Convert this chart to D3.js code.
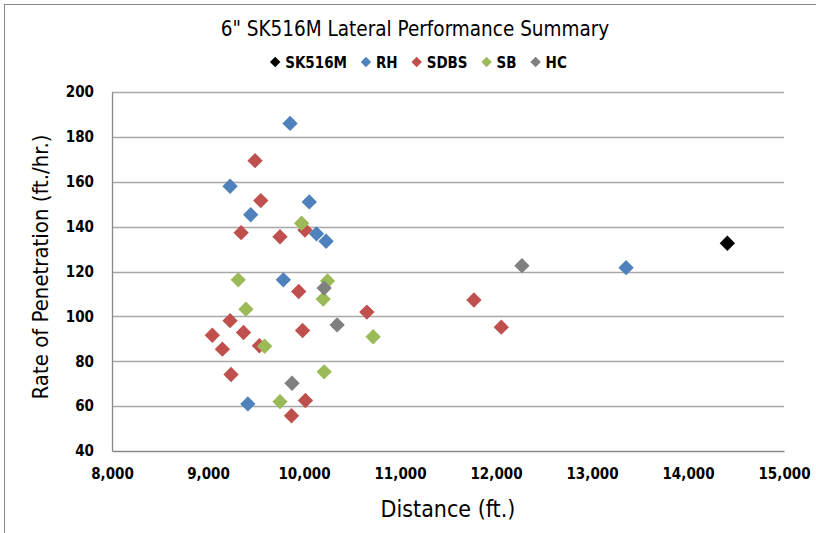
<!DOCTYPE html>
<html>
<head>
<meta charset="utf-8">
<script src="https://cdn.jsdelivr.net/npm/d3@7"></script>
<style>
body { margin: 0; background: #fff; }
text { font-family: "Liberation Sans Narrow", "DejaVu Sans Condensed", "Open Sans", sans-serif; }
</style>
</head>
<body>
<div id="chart"></div>
<script>
// series data: [distance (ft.), ROP (ft./hr.)]
var seriesNames = ["SK516M", "RH", "SDBS", "SB", "HC"];
var seriesColors = ["#000000", "#4F81BD", "#C0504D", "#9BBB59", "#808080"];

var sk516m = [[14410, 132.6]];
var rh = [[9855, 186], [9230, 158], [10055, 151], [9445, 145.3], [10130, 136.8],
  [10230, 133.5], [9785, 116.3], [13355, 121.7], [9415, 61]];
var sdbs = [[9490, 169.4], [9550, 151.6], [9345, 137.3], [9750, 135.5], [10010, 138.5],
  [9945, 111.1], [9230, 98.1], [9045, 91.6], [9370, 92.8], [9985, 93.7], [9150, 85.4],
  [9535, 86.9], [9240, 74.1], [10015, 62.5], [9870, 55.7], [10655, 101.9], [11770, 107.3],
  [12055, 95.2]];
var sb = [[9975, 141.5], [9315, 116.3], [10245, 115.8], [10200, 107.7], [9395, 103.2],
  [9590, 86.7], [10210, 75.3], [9750, 62], [10720, 90.9]];
var hc = [[10210, 112.6], [10345, 96.2], [9875, 70.2], [12270, 122.6]];

var xTicks = [8000, 9000, 10000, 11000, 12000, 13000, 14000, 15000];
var yTicks = [40, 60, 80, 100, 120, 140, 160, 180, 200];

var allSeries = [sk516m, rh, sdbs, sb, hc];

//setting dimensions and margins
var W = 816, H = 533;
var margin = {top: 92, right: 32, bottom: 82, left: 112},
  width = W - margin.left - margin.right,
  height = H - margin.top - margin.bottom;

var svg = d3.select("#chart").append("svg")
  .attr("width", W).attr("height", H);

//outer chart border
svg.append("rect")
  .attr("x", 4.5).attr("y", 4.5)
  .attr("width", W + 20).attr("height", H + 20)
  .attr("fill", "#fff").attr("stroke", "#888").attr("stroke-width", 1);

var g = svg.append("g")
  .attr("transform", "translate(" + margin.left + "," + margin.top + ")");

var x = d3.scaleLinear().domain([8000, 15000]).range([0, width]);
var y = d3.scaleLinear().domain([40, 200]).range([height, 0]);

//gridlines
g.append("g")
  .selectAll("line").data(yTicks.slice(1)).enter().append("line")
  .attr("x1", 0).attr("x2", width)
  .attr("y1", function(d) { return Math.round(y(d)) + 0.5; })
  .attr("y2", function(d) { return Math.round(y(d)) + 0.5; })
  .attr("stroke", "#a8a8a8").attr("stroke-width", 1.3);

//y axis
var yAxis = g.append("g")
  .call(d3.axisLeft(y).tickValues(yTicks).tickSize(0).tickPadding(18).tickFormat(d3.format("d")));
yAxis.select(".domain").attr("stroke", "#888").attr("stroke-width", 1.3);
yAxis.selectAll("text").style("font-size", "15px").style("font-weight", "bold").attr("fill", "#000");

//x axis
var xAxis = g.append("g")
  .attr("transform", "translate(0," + height + ")")
  .call(d3.axisBottom(x).tickValues(xTicks).tickSize(0).tickPadding(17).tickFormat(d3.format(",")));
xAxis.select(".domain").attr("stroke", "#888").attr("stroke-width", 1.3);
xAxis.selectAll("text").style("font-size", "15px").style("font-weight", "bold").attr("fill", "#000");

//axis titles
svg.append("text")
  .attr("x", margin.left + width / 2).attr("y", 517)
  .attr("text-anchor", "middle")
  .style("font-size", "23px")
  .text("Distance (ft.)");

svg.append("text")
  .attr("transform", "translate(48,267) rotate(-90)")
  .attr("text-anchor", "middle")
  .style("font-size", "22px")
  .text("Rate of Penetration (ft./hr.)");

//chart title
svg.append("text")
  .attr("x", 415).attr("y", 36)
  .attr("text-anchor", "middle")
  .style("font-size", "20.5px")
  .text('6" SK516M Lateral Performance Summary');

var diamond = d3.symbol().type(d3.symbolDiamond2).size(150);

//points (draw in order so later series sit on top)
allSeries.forEach(function(data, i) {
  g.append("g").selectAll("path").data(data).enter().append("path")
    .attr("d", diamond)
    .attr("transform", function(d) { return "translate(" + x(d[0]) + "," + y(d[1]) + ")"; })
    .attr("fill", seriesColors[i]);
});

//legend
var legend = svg.append("g");
var lx = 0;
seriesNames.forEach(function(name, i) {
  var item = legend.append("g").attr("transform", "translate(" + lx + ",0)");
  item.append("path").attr("d", d3.symbol().type(d3.symbolDiamond2).size(70))
    .attr("fill", seriesColors[i]);
  var t = item.append("text").attr("x", 10).attr("y", 5.5)
    .style("font-size", "15px").style("font-weight", "bold").text(name);
  lx += 10 + t.node().getComputedTextLength() + 19;
});
lx -= 19;
legend.attr("transform", "translate(" + (421 - lx / 2) + ",62)");
</script>
</body>
</html>
